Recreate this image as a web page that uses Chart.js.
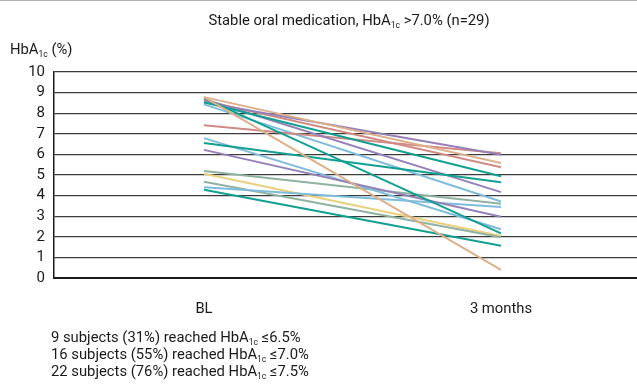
<!DOCTYPE html>
<html>
<head>
<meta charset="utf-8">
<script src="https://cdn.jsdelivr.net/npm/chart.js@4.4.1/dist/chart.umd.min.js"></script>
<style>
  html, body { margin: 0; padding: 0; background: #fff; }
  body { width: 637px; height: 389px; position: relative; overflow: hidden; border-top: 1px solid #b0b0b0; box-sizing: border-box;
         font-family: "Roboto", sans-serif; color: #1a1a1a; }
  #wrap { position: absolute; left: 0; top: 0; width: 637px; height: 389px; }
  .txt { position: absolute; white-space: nowrap; font-size: 14.8px; line-height: 1; }
  sub { font-size: 8.5px; vertical-align: -3px; line-height: 0; }
  #title { left: 0; width: 698px; text-align: center; top: 12px; }
  #ytitle { left: 10px; top: 41px; }
  #notes { left: 51px; top: 328px; line-height: 17px; }
</style>
</head>
<body>
<div id="wrap"><canvas id="chart" width="637" height="389"></canvas></div>
<div class="txt" id="title">Stable oral medication, HbA<sub>1c</sub> &gt;7.0% (n=29)</div>
<div class="txt" id="ytitle">HbA<sub>1c</sub> (%)</div>
<div class="txt" id="notes">
  9 subjects (31%) reached HbA<sub>1c</sub> ≤6.5%<br>
  16 subjects (55%) reached HbA<sub>1c</sub> ≤7.0%<br>
  22 subjects (76%) reached HbA<sub>1c</sub> ≤7.5%
</div>
<script>
// time points (x positions 0 and 1 on a linear scale)
const timeLabels = ['BL', '3 months'];

// one entry per subject line: baseline and 3-month HbA1c (%)
const baseline = [8.78, 8.78, 8.73, 8.53, 6.55, 4.28, 8.52, 8.68, 6.22, 8.60, 7.41, 8.43, 6.79, 4.41, 5.19, 4.67, 5.06];
const month3   = [0.39, 5.58, 2.17, 4.94, 4.65, 1.57, 5.98, 4.17, 2.97, 5.38, 6.06, 3.71, 2.37, 3.45, 3.60, 1.98, 2.04];
const lineColors = ['#dcb08a', '#dcb08a', '#12a091', '#12a091', '#12a091', '#12a091',
                    '#9580b8', '#9580b8', '#9580b8', '#cf8b84', '#cf8b84',
                    '#7fbcdc', '#7fbcdc', '#7fbcdc', '#8fb3a0', '#8fb3a0', '#ead17e'];

const yTicks = [0, 1, 2, 3, 4, 5, 6, 7, 8, 9, 10];

const datasets = baseline.map((b, i) => ({
  data: [{ x: 0, y: b }, { x: 1, y: month3[i] }],
  borderColor: lineColors[i],
  borderWidth: 2,
  pointRadius: 0,
  fill: false,
  tension: 0
}));

new Chart(document.getElementById('chart'), {
  type: 'line',
  data: { datasets },
  options: {
    responsive: false,
    animation: false,
    events: [],
    layout: { padding: { left: 0, right: 0, top: 71, bottom: 72 } },
    plugins: { legend: { display: false }, tooltip: { enabled: false } },
    scales: {
      x: {
        type: 'linear',
        min: -0.505,
        max: 1.458,
        afterBuildTicks: s => { s.ticks = timeLabels.map((_, i) => ({ value: i })); },
        afterFit: s => { s.height = 40; },
        ticks: {
          callback: v => timeLabels[v] ?? '',
          color: '#1a1a1a',
          padding: 22,
          maxRotation: 0,
          autoSkip: false,
          font: { family: 'Roboto, sans-serif', size: 14.8 }
        },
        grid: { display: false, drawTicks: false },
        border: { display: true, color: '#1a1a1a', width: 2 }
      },
      y: {
        min: 0,
        max: 10,
        afterBuildTicks: s => { s.ticks = yTicks.map(v => ({ value: v })); },
        afterFit: s => { s.width = 54; },
        ticks: {
          color: '#1a1a1a',
          padding: 9,
          autoSkip: false,
          font: { family: 'Roboto, sans-serif', size: 15 }
        },
        grid: { color: '#3c3c3c', lineWidth: 1.3, drawTicks: false },
        border: { display: true, color: '#1a1a1a', width: 1.5 }
      }
    }
  }
});
</script>
</body>
</html>
